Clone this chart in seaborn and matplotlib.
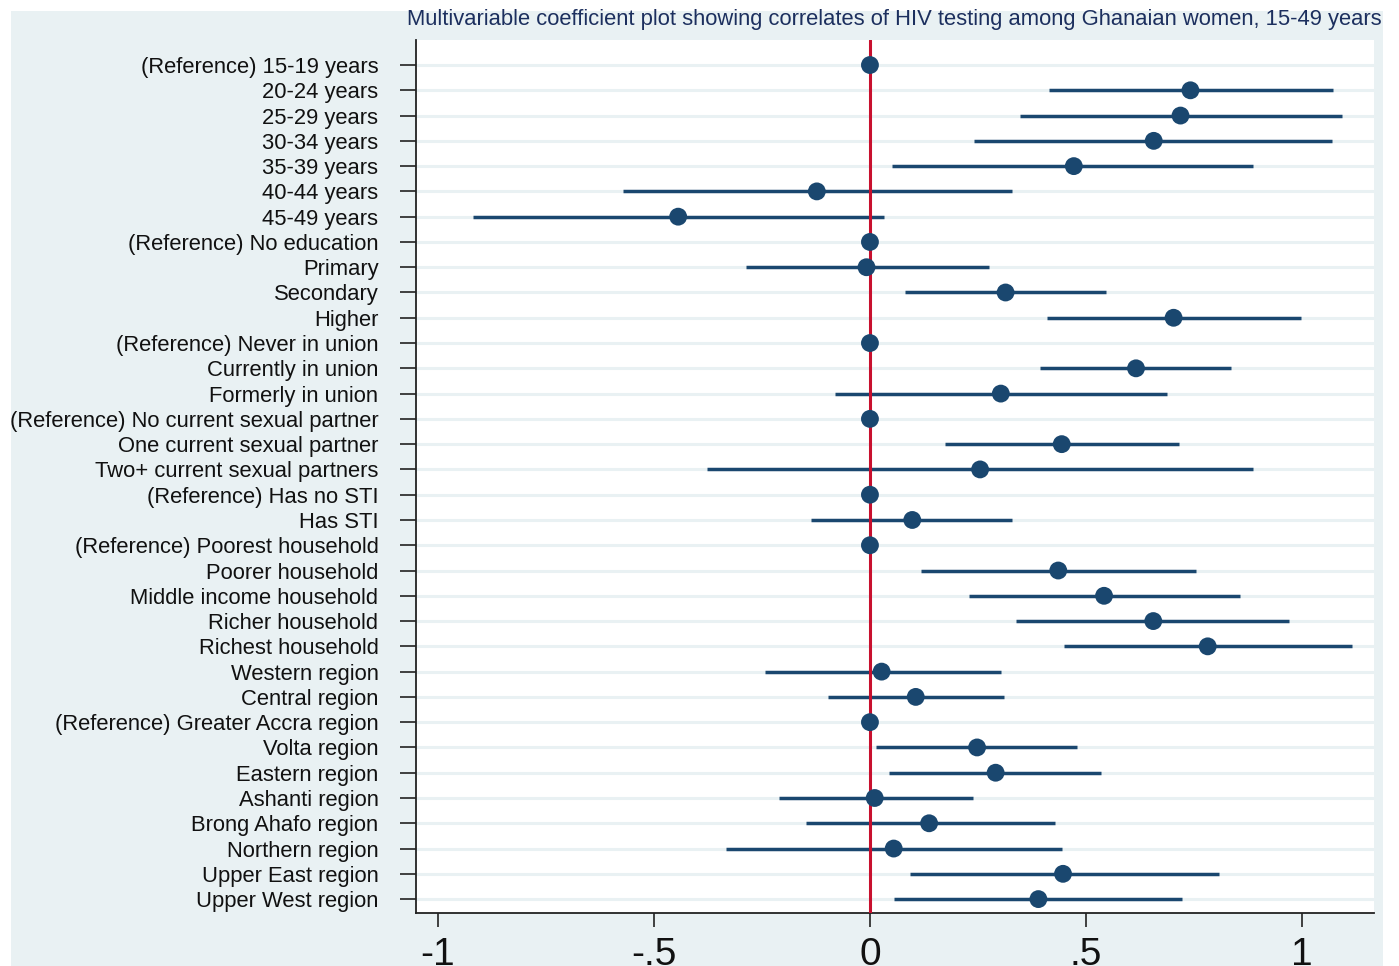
import numpy as np
import pandas as pd
import matplotlib
matplotlib.use("Agg")
import matplotlib.pyplot as plt
from matplotlib.patches import Rectangle
import seaborn as sns

# ---------------- data ----------------
labels = [
    "(Reference) 15-19 years", "20-24 years", "25-29 years", "30-34 years",
    "35-39 years", "40-44 years", "45-49 years",
    "(Reference) No education", "Primary", "Secondary", "Higher",
    "(Reference) Never in union", "Currently in union", "Formerly in union",
    "(Reference) No current sexual partner", "One current sexual partner",
    "Two+ current sexual partners",
    "(Reference) Has no STI", "Has STI",
    "(Reference) Poorest household", "Poorer household", "Middle income household",
    "Richer household", "Richest household",
    "Western region", "Central region", "(Reference) Greater Accra region",
    "Volta region", "Eastern region", "Ashanti region", "Brong Ahafo region",
    "Northern region", "Upper East region", "Upper West region",
]
coef = [0, 0.742, 0.719, 0.657, 0.472, -0.123, -0.444,
        0, -0.008, 0.314, 0.703,
        0, 0.616, 0.303,
        0, 0.444, 0.255,
        0, 0.098,
        0, 0.436, 0.542, 0.656, 0.782,
        0.027, 0.106, 0, 0.248, 0.291, 0.011, 0.137, 0.055, 0.447, 0.390]
ci_lo = [0, 0.414, 0.347, 0.241, 0.052, -0.572, -0.919,
         0, -0.286, 0.080, 0.410,
         0, 0.394, -0.082,
         0, 0.174, -0.377,
         0, -0.137,
         0, 0.119, 0.229, 0.339, 0.449,
         -0.243, -0.097, 0, 0.013, 0.044, -0.211, -0.148, -0.333, 0.093, 0.056]
ci_hi = [0, 1.073, 1.093, 1.069, 0.888, 0.330, 0.032,
         0, 0.275, 0.546, 0.998,
         0, 0.837, 0.688,
         0, 0.715, 0.888,
         0, 0.330,
         0, 0.755, 0.856, 0.971, 1.116,
         0.303, 0.311, 0, 0.480, 0.535, 0.239, 0.428, 0.444, 0.809, 0.723]
xtick_vals = [-1, -0.5, 0, 0.5, 1]
xtick_labels = ["-1", "-.5", "0", ".5", "1"]
title = "Multivariable coefficient plot showing correlates of HIV testing among Ghanaian women, 15-49 years"

df = pd.DataFrame({"label": labels, "coef": coef, "lo": ci_lo, "hi": ci_hi})

# ---------------- style ----------------
sns.set_theme(style="white")
plt.rcParams["font.family"] = ["Liberation Sans", "DejaVu Sans"]

navy = "#1a476f"
red = "#c8102e"
bg = "#e9f1f3"

W, H = 1399, 966
fig = plt.figure(figsize=(W / 100, H / 100), dpi=100)
fig.patch.set_facecolor("white")
fig.add_artist(Rectangle((11 / W, 0), (1383 - 11) / W, (H - 11) / H,
                         transform=fig.transFigure, facecolor=bg, edgecolor="none", zorder=-5))

ax = fig.add_axes([416 / W, 1 - 913 / H, (1374 - 416) / W, (913 - 40) / H])
ax.set_facecolor("white")

# confidence intervals
ax.hlines(df["label"], df["lo"], df["hi"], color=navy, linewidth=2.5, capstyle="butt", zorder=2)
# reference line at zero
ax.axvline(0, color=red, linewidth=2.2, zorder=3)
# point estimates
sns.scatterplot(data=df, x="coef", y="label", ax=ax, color=navy, s=165,
                marker="o", edgecolor="none", linewidth=0, zorder=4, legend=False)

ax.set_xlim(-1.051, 1.167)
ax.set_ylim(33.55, -0.99)
ax.set_yticks(range(len(labels)))
ax.set_yticklabels(labels)
ax.set_xticks(xtick_vals)
ax.set_xticklabels(xtick_labels)
ax.set_xlabel("")
ax.set_ylabel("")

ax.grid(axis="y", color=bg, linewidth=2.2)
ax.grid(axis="x", visible=False)
ax.set_axisbelow(True)

for side in ["top", "right"]:
    ax.spines[side].set_visible(False)
for side in ["left", "bottom"]:
    ax.spines[side].set_color("#222222")
    ax.spines[side].set_linewidth(1.3)

ax.tick_params(axis="y", which="major", left=True, length=11.5, width=1.2, color="#222222",
               pad=15.5, labelsize=15.8, labelcolor="#111111")
ax.tick_params(axis="x", which="major", bottom=True, length=10, width=1.2, color="#222222",
               pad=7, labelsize=28, labelcolor="#111111")

fig.text(894 / W, 1 - 20 / H, title, ha="center", va="center", fontsize=15.85, color="#1c2f5e")

fig.savefig("out.png", dpi=100)
